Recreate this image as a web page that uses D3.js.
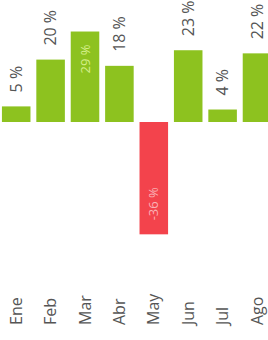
<!DOCTYPE html>
<html><head><meta charset="utf-8">
<script src="https://cdn.jsdelivr.net/npm/d3@7"></script>
<style>html,body{margin:0;padding:0;background:#fff;overflow:hidden}svg{display:block}</style>
</head><body>
<script>
const months = ["Ene","Feb","Mar","Abr","May","Jun","Jul","Ago"];
const values = [5, 20, 29, 18, -36, 23, 4, 22];
const valueLabels = ["5 %","20 %","29 %","18 %","-36 %","23 %","4 %","22 %"];

const W = 268, H = 340;
const svg = d3.select("body").append("svg").attr("width", W).attr("height", H);

const x = d3.scaleBand().domain(months).range([-1, 274.2]).paddingInner(0.17).paddingOuter(0.085);
const y = d3.scaleLinear().domain([-40, 40]).range([246.8, -2.8]);

const green = "#8dc21f", red = "#f3434c";

svg.append("g").selectAll("rect").data(months).join("rect")
  .attr("x", d => x(d))
  .attr("width", x.bandwidth())
  .attr("y", (d,i) => Math.min(y(values[i]), y(0)))
  .attr("height", (d,i) => Math.abs(y(values[i]) - y(0)))
  .attr("fill", (d,i) => values[i] < 0 ? red : green);

const font = "'Open Sans', 'Noto Sans', sans-serif";

// value labels
const lg = svg.append("g");
months.forEach((m, i) => {
  const v = values[i];
  const cx = x(m) + x.bandwidth()/2;
  const t = lg.append("text")
    .attr("font-family", font)
    .attr("font-size", 16)
    .attr("dy", "0.35em")
    .text(valueLabels[i]);
  const len = t.node().getComputedTextLength();
  let inside = v < 0 || (y(v) - 14 - len < -5);
  if (!inside) {
    t.attr("fill", "#555").attr("text-anchor", "start")
     .attr("transform", `translate(${cx},${y(v) - 14}) rotate(-90)`);
  } else if (v >= 0) {
    t.attr("font-size", 13).attr("fill", "#d6ef8c").attr("text-anchor", "end")
     .attr("transform", `translate(${cx},${y(v) + 13}) rotate(-90)`);
  } else {
    t.attr("font-size", 13).attr("fill", "#fab0b5").attr("text-anchor", "start")
     .attr("transform", `translate(${cx},${y(v) - 14}) rotate(-90)`);
  }
});

// category axis labels
const xAxis = d3.axisBottom(x).tickSize(0).tickPadding(0);
const ax = svg.append("g").attr("transform", "translate(0,325)").call(xAxis);
ax.select(".domain").remove();
ax.selectAll("text")
  .attr("font-family", font)
  .attr("font-size", 16)
  .attr("fill", "#555")
  .attr("text-anchor", "start")
  .attr("y", 0)
  .attr("x", 0)
  .attr("dy", "0.35em")
  .attr("transform", "rotate(-90)");
</script>
</body></html>
